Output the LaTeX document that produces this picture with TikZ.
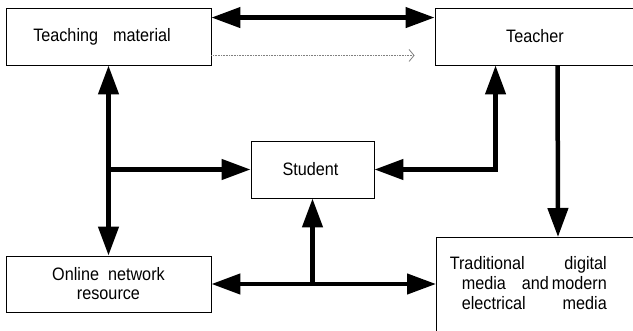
\documentclass[tikz,border=0pt]{standalone}
\usepackage{fontspec}
\setmainfont{Liberation Sans}[FakeStretch=0.9]
\usetikzlibrary{arrows.meta}
\begin{document}
\begin{tikzpicture}[x=1pt,y=1pt,
  box/.style={draw=black, line width=0.9pt, rectangle, inner sep=0pt,
    font=\fontsize{18}{19}\selectfont, align=center},
  label/.style={inner sep=0pt, font=\fontsize{18}{20}\selectfont},
  flow/.style={line width=4.5pt, -{Triangle[length=29pt,width=20pt]}},
  both/.style={line width=4.5pt,
    {Triangle[length=29pt,width=20pt]}-{Triangle[length=29pt,width=20pt]}},
  hint/.style={gray, line width=0.8pt, dash pattern=on 1pt off 0.6pt,
    -{Straight Barb[length=5pt,width=12pt,line width=0.8pt]}}
]
\clip (0,0) rectangle (633,330);
\fill[white] (0,0) rectangle (633,330);

% boxes
\node[box, minimum width=205pt, minimum height=57pt] (tm) at (108.5,293.5)
  {Teaching\hspace{15pt}material\kern13pt};
\node[box, minimum width=200pt, minimum height=57pt] (teacher) at (535,293.5)
  {Teacher};
\node[box, minimum width=123pt, minimum height=57pt] (student) at (312.5,160.5)
  {Student\kern4pt};
\node[box, minimum width=205pt, minimum height=56pt] (online) at (108.5,46)
  {Online\hspace{9pt}network\\resource};
\node[box, minimum width=200pt, minimum height=110pt, anchor=north west] (trad)
  at (436,93) {};
\node[label, anchor=east, align=right] (tradtext)
  at ([xshift=171pt,yshift=-46pt]trad.north west)
  {\hbox to 157pt{Traditional\hfill digital}\\
   \hbox to 145pt{media\hfill and\hspace{3pt}modern}\\
   \hbox to 145pt{electrical\hfill media}};

% connectors
\draw[both] ([yshift=-10pt]tm.north east) -- ([yshift=-10pt]teacher.north west);
\draw[hint] ([yshift=10pt]tm.south east) -- ([yshift=10pt,xshift=-20pt]teacher.south west);
\draw[both] (tm.south) -- (online.north);
\draw[flow] (tm.south |- student.west) -- (student.west);
\draw[both] ([xshift=61pt]teacher.south west) |- (student.east);
\draw[flow] ([xshift=123pt]teacher.south west) -- ([xshift=122pt]trad.north west);
\draw[both] (online.east) -- (online.east -| trad.west);
\draw[flow] (student.south |- online.east) -- (student.south);
\end{tikzpicture}
\end{document}
